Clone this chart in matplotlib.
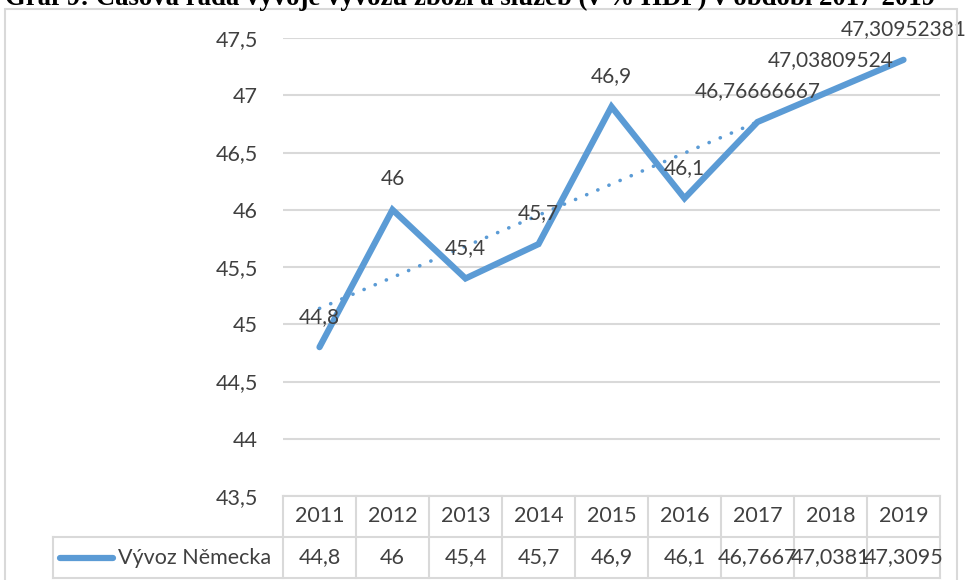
import numpy as np
import matplotlib.pyplot as plt
from matplotlib.lines import Line2D
from matplotlib.patches import Rectangle

plt.rcParams['font.family'] = ['Lato', 'DejaVu Sans']

years = ['2011', '2012', '2013', '2014', '2015', '2016', '2017', '2018', '2019']
vyvoz = [44.8, 46.0, 45.4, 45.7, 46.9, 46.1, 46.76666667, 47.03809524, 47.30952381]
point_labels = ['44,8', '46', '45,4', '45,7', '46,9', '46,1',
                '46,76666667', '47,03809524', '47,30952381']
table_labels = ['44,8', '46', '45,4', '45,7', '46,9', '46,1',
                '46,7667', '47,0381', '47,3095']
yticks = [43.5, 44, 44.5, 45, 45.5, 46, 46.5, 47, 47.5]
series_name = 'Vývoz Německa'
title = 'Graf 9: Časová řada vývoje vývozu zboží a služeb (v % HDP) v období 2017-2019'

blue = '#5B9BD5'
grid = '#D9D9D9'
txt = '#404040'
fs = 15.5

fig = plt.figure(figsize=(9.65, 5.8), dpi=100)
ax = fig.add_axes([283 / 965, 1 - 496 / 580, 657 / 965, 458 / 580])

x = np.arange(len(years))
# linear trend
k, q = np.polyfit(x, vyvoz, 1)
ax.plot(x, k * x + q, color=blue, lw=2.6, ls=(0, (0.05, 3.3)), dash_capstyle='round', zorder=2)
ax.plot(x, vyvoz, color=blue, lw=4.5, solid_capstyle='round', solid_joinstyle='miter', zorder=3)

for xi, v, lab in zip(x, vyvoz, point_labels):
    ax.annotate(lab, (xi, v), xytext=(0, 22), textcoords='offset points',
                ha='center', va='center', fontsize=15, color=txt, zorder=4)

ax.set_xlim(-0.5, len(years) - 0.5)
ax.set_ylim(43.5, 47.5)
ax.set_yticks(yticks)
ax.set_yticklabels([f'{t:g}'.replace('.', ',') for t in yticks], fontsize=fs, color=txt)
ax.tick_params(axis='y', length=0, pad=18)
ax.set_xticks([])
ax.grid(axis='y', color=grid, lw=1.5)
ax.set_axisbelow(True)
for s in ax.spines.values():
    s.set_visible(False)

# data table under the plot
h = 41 / 458
left = (53 - 283) / 657
tr = ax.transAxes
tl = dict(color=grid, lw=1.5, transform=tr, clip_on=False)
ax.add_line(Line2D([0, 1], [0, 0], **tl))
ax.add_line(Line2D([left, 1], [-h, -h], **tl))
ax.add_line(Line2D([left, 1], [-2 * h, -2 * h], **tl))
ax.add_line(Line2D([left, left], [-h, -2 * h], **tl))
n = len(years)
for i in range(n + 1):
    ax.add_line(Line2D([i / n, i / n], [0, -2 * h], **tl))
for i in range(n):
    cx = (i + 0.5) / n
    ax.text(cx, -0.5 * h, years[i], transform=tr, ha='center', va='center',
            fontsize=fs, color=txt)
    ax.text(cx, -1.5 * h, table_labels[i], transform=tr, ha='center', va='center',
            fontsize=fs, color=txt)
ax.add_line(Line2D([(60 - 283) / 657, (113 - 283) / 657], [-1.5 * h, -1.5 * h],
                   color=blue, lw=4.5, solid_capstyle='round', transform=tr, clip_on=False))
ax.text((118 - 283) / 657, -1.5 * h, series_name, transform=tr, ha='left', va='center',
        fontsize=fs, color=txt)

# chart frame and clipped caption
fig.patches.append(Rectangle((5 / 965, -0.01), 952 / 965, 1 - 9 / 580 + 0.01,
                             transform=fig.transFigure, fill=False, ec=grid, lw=1.5))
fig.text(5 / 965, 1 - 5 / 580, title, family='Liberation Serif', weight='bold',
         fontsize=19.3, color='black', ha='left', va='baseline')

fig.savefig('out.png', dpi=100)
